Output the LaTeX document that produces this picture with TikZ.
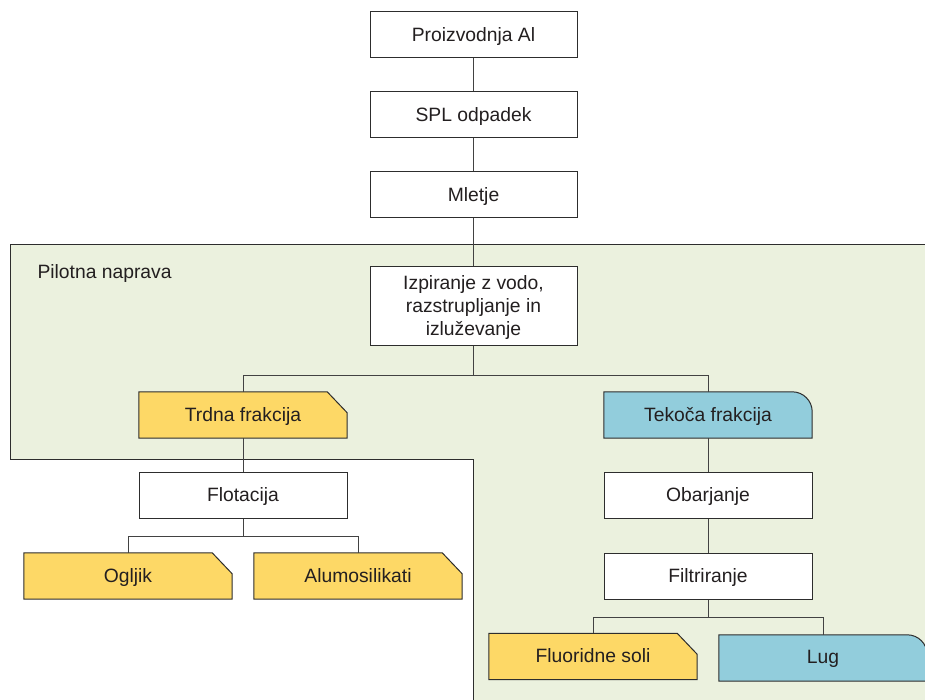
\documentclass[tikz,border=0pt]{standalone}
\usepackage{fontspec}
\setmainfont{Liberation Sans}
\pgfdeclarelayer{back}
\pgfdeclarelayer{bg}
\pgfsetlayers{back,bg,main}
\definecolor{zone}{RGB}{235,241,222}
\definecolor{yel}{RGB}{253,216,102}
\definecolor{blu}{RGB}{146,205,220}
\definecolor{edge}{RGB}{45,45,45}
\definecolor{txt}{RGB}{35,31,32}
\begin{document}
\begin{tikzpicture}[x=1pt,y=-1pt,
  every node/.style={font=\fontsize{19.3}{23}\selectfont, text=txt},
  box/.style={draw=edge, line width=1pt, fill=white, minimum width=207pt, minimum height=46pt, inner sep=0pt, text depth=0.3ex},
  tag/.style={minimum width=208pt, minimum height=46pt, inner sep=0pt, text depth=0.3ex},
  link/.style={draw=edge!90, line width=1pt},
  shapeline/.style={draw=edge, line width=1pt}]
\useasboundingbox (0,0) rectangle (925,700);
\begin{pgfonlayer}{back}
  \fill[zone] (10,245) -- (935,245) -- (935,710) -- (473,710) -- (473,459) -- (10,459) -- cycle;
  \draw[edge, line width=1pt] (935,245) -- (10,245) -- (10,459) -- (473,459) -- (473,710);
\end{pgfonlayer}
\node[anchor=west] (pilot) at (34,274) {Pilotna naprava};

\node[box] (proiz) at (473.5,35) {Proizvodnja Al};
\node[box] (spl) at (473.5,115) {SPL odpadek};
\node[box] (mlet) at (473.5,195) {Mletje};
\node[box, minimum height=78pt, align=center, text depth=0pt] (izp) at (473.5,306) {Izpiranje z vodo,\\razstrupljanje in\\izluževanje};

\node[tag] (trdna) at (243,415) {Trdna frakcija};
\node[tag] (tekoca) at (708,415) {Tekoča frakcija};
\node[box, minimum width=208pt] (flot) at (243,495) {Flotacija};
\node[tag] (oglj) at (128,576) {Ogljik};
\node[tag] (alum) at (358,576) {Alumosilikati};
\node[box, minimum width=208pt] (obar) at (708,495) {Obarjanje};
\node[box, minimum width=208pt] (filt) at (708,576) {Filtriranje};
\node[tag] (fluo) at (593,656.5) {Fluoridne soli};
\node[tag] (lug) at (823,658) {Lug};

\begin{pgfonlayer}{bg}
  \foreach \n in {trdna,oglj,alum,fluo}{
    \filldraw[fill=yel, shapeline] (\n.south west) -- (\n.north west) -- ([xshift=-20pt]\n.north east) -- ([yshift=-21pt]\n.north east) -- (\n.south east) -- cycle;
  }
  \foreach \n in {tekoca,lug}{
    \filldraw[fill=blu, shapeline] (\n.south west) -- (\n.north west) -- ([xshift=-20pt]\n.north east) arc[start angle=90, end angle=0, radius=20pt] -- (\n.south east) -- cycle;
  }
  \draw[link] (proiz) -- (spl);
  \draw[link] (spl) -- (mlet);
  \draw[link] (mlet) -- (izp);
  \draw[link] (izp.south) -- ++(0,30) -| (trdna.north);
  \draw[link] (izp.south) -- ++(0,30) -| (tekoca.north);
  \draw[link] (trdna) -- (flot);
  \draw[link] (flot.south) -- ++(0,18) -| (oglj.north);
  \draw[link] (flot.south) -- ++(0,18) -| (alum.north);
  \draw[link] (tekoca) -- (obar);
  \draw[link] (obar) -- (filt);
  \draw[link] (filt.south) -- ++(0,18) -| (fluo.north);
  \draw[link] (filt.south) -- ++(0,18) -| (lug.north);
\end{pgfonlayer}
\end{tikzpicture}
\end{document}
